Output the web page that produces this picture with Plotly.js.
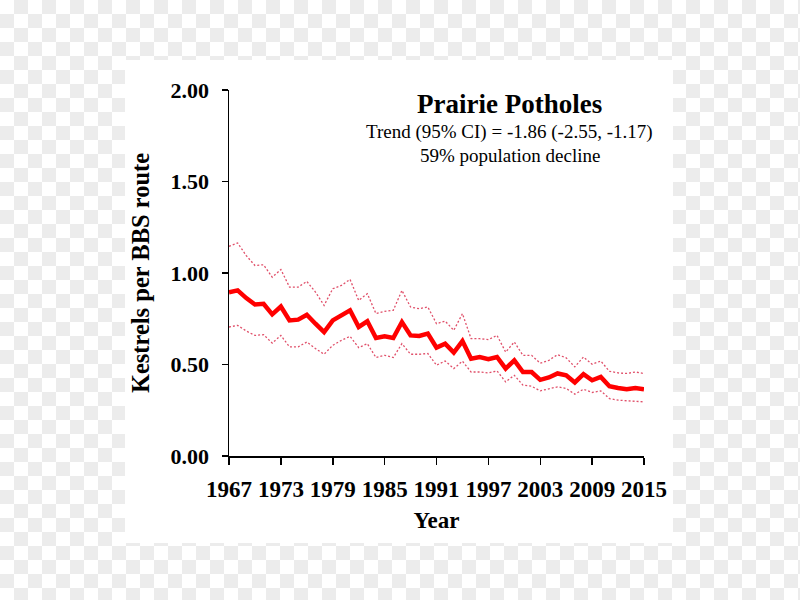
<!DOCTYPE html>
<html>
<head>
<meta charset="utf-8">
<script src="https://cdn.plot.ly/plotly-3.0.1.min.js"></script>
<style>
html,body{margin:0;padding:0;}
body{
  width:800px;height:600px;overflow:hidden;
  background-color:#ffffff;
  background-image:conic-gradient(#ececec 25%, #ffffff 0 50%, #ececec 0 75%, #ffffff 0);
  background-size:28px 28px;
}
#wrap{position:absolute;left:125px;top:60px;width:548px;height:483px;background:#fff;}
#chart{position:absolute;left:0;top:0;width:800px;height:600px;}
</style>
</head>
<body>
<div id="wrap"></div>
<div id="chart"></div>
<script>
const years = [1967,1968,1969,1970,1971,1972,1973,1974,1975,1976,1977,1978,1979,1980,1981,1982,1983,1984,1985,1986,1987,1988,1989,1990,1991,1992,1993,1994,1995,1996,1997,1998,1999,2000,2001,2002,2003,2004,2005,2006,2007,2008,2009,2010,2011,2012,2013,2014,2015];

const index = [0.895,0.905,0.863,0.828,0.832,0.774,0.817,0.741,0.745,0.772,0.723,0.677,0.741,0.768,0.796,0.705,0.736,0.645,0.654,0.645,0.732,0.659,0.656,0.669,0.592,0.614,0.565,0.628,0.532,0.541,0.529,0.541,0.478,0.523,0.459,0.459,0.416,0.429,0.451,0.441,0.402,0.447,0.414,0.432,0.381,0.372,0.365,0.372,0.365];

const upperCI = [1.146,1.164,1.095,1.041,1.045,0.977,1.019,0.923,0.923,0.954,0.896,0.823,0.914,0.932,0.965,0.850,0.887,0.778,0.790,0.796,0.905,0.814,0.805,0.814,0.723,0.737,0.687,0.778,0.641,0.641,0.636,0.659,0.568,0.623,0.550,0.550,0.507,0.523,0.554,0.536,0.487,0.541,0.501,0.519,0.463,0.454,0.451,0.459,0.451];

const lowerCI = [0.705,0.714,0.683,0.659,0.663,0.617,0.659,0.596,0.596,0.623,0.587,0.556,0.605,0.632,0.654,0.592,0.614,0.538,0.550,0.538,0.614,0.556,0.556,0.560,0.496,0.519,0.478,0.518,0.459,0.459,0.454,0.465,0.405,0.441,0.387,0.381,0.356,0.369,0.378,0.369,0.338,0.365,0.347,0.356,0.314,0.305,0.301,0.301,0.296];

const xTicks = [1967,1973,1979,1985,1991,1997,2003,2009,2015];
const yTicks = [0,0.5,1.0,1.5,2.0];
const yTickLabels = ["0.00","0.50","1.00","1.50","2.00"];

const titleText = "Prairie Potholes";
const trendText = "Trend (95% CI) = -1.86 (-2.55, -1.17)";
const declineText = "59% population decline";

const ciColor = "#e0506a";
const traces = [
  {x: years, y: upperCI, type: "scatter", mode: "lines",
   line: {color: ciColor, width: 1.3, dash: "2px,2px"}, hoverinfo: "skip", name: "Upper 95% CI"},
  {x: years, y: lowerCI, type: "scatter", mode: "lines",
   line: {color: ciColor, width: 1.3, dash: "2px,2px"}, hoverinfo: "skip", name: "Lower 95% CI"},
  {x: years, y: index, type: "scatter", mode: "lines",
   line: {color: "#ff0000", width: 4.5}, name: "Index"}
];

const serif = "Liberation Serif, Times New Roman, serif";
const layout = {
  width: 800, height: 600,
  margin: {l: 229, r: 156, t: 90, b: 144},
  paper_bgcolor: "rgba(0,0,0,0)",
  plot_bgcolor: "rgba(0,0,0,0)",
  showlegend: false,
  font: {family: serif, color: "#000"},
  xaxis: {
    range: [1967, 2015], tickvals: xTicks, ticktext: xTicks.map(String),
    showgrid: false, zeroline: false, showline: true, linecolor: "#000", linewidth: 1.5,
    ticks: "outside", ticklen: 7, tickwidth: 1.5, tickcolor: "#000",
    tickfont: {family: serif, size: 23, color: "#000", weight: "bold"},
    ticklabelstandoff: 5,
    title: {text: "<b>Year</b>", font: {family: serif, size: 23, color: "#000"}, standoff: 11},
    automargin: false
  },
  yaxis: {
    range: [0, 2], tickvals: yTicks, ticktext: yTickLabels,
    showgrid: false, zeroline: false, showline: true, linecolor: "#000", linewidth: 1.5,
    ticks: "outside", ticklen: 6, tickwidth: 1.5, tickcolor: "#000",
    tickfont: {family: serif, size: 22, color: "#000", weight: "bold"},
    ticklabelstandoff: 8,
    title: {text: "<b>Kestrels per BBS route</b>", font: {family: serif, size: 24.5, color: "#000"}, standoff: 14},
    automargin: false
  },
  annotations: [
    {text: "<b>" + titleText + "</b>", xref: "paper", yref: "paper", x: 0.677, y: 0.962,
     showarrow: false, font: {family: serif, size: 27, color: "#000"}, xanchor: "center", yanchor: "middle"},
    {text: trendText, xref: "paper", yref: "paper", x: 0.677, y: 0.885,
     showarrow: false, font: {family: serif, size: 19, color: "#000"}, xanchor: "center", yanchor: "middle"},
    {text: declineText, xref: "paper", yref: "paper", x: 0.677, y: 0.820,
     showarrow: false, font: {family: serif, size: 19, color: "#000"}, xanchor: "center", yanchor: "middle"}
  ]
};

Plotly.newPlot("chart", traces, layout, {displayModeBar: false, staticPlot: true});
</script>
</body>
</html>
